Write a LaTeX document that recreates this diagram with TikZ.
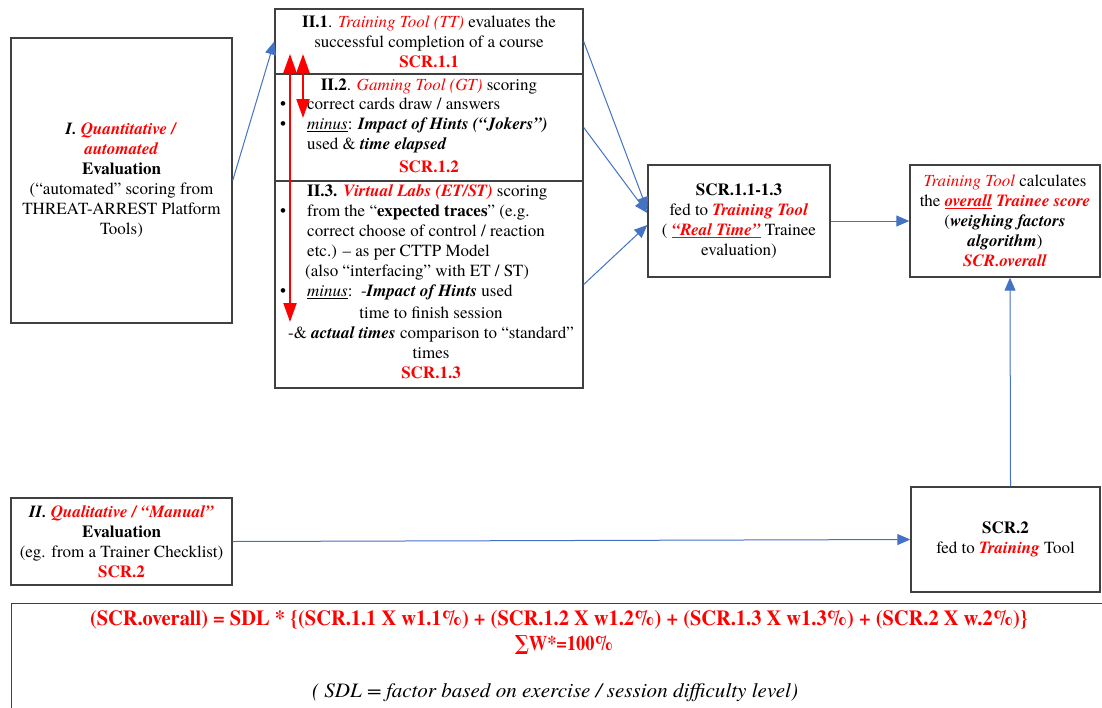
\documentclass[tikz,border=0pt]{standalone}
\usepackage{graphicx}
\usepackage{fontspec}
\setmainfont{texgyretermes}[Extension=.otf, UprightFont=*-regular, BoldFont=*-bold,
  ItalicFont=*-italic, BoldItalicFont=*-bolditalic]
\newfontfamily\symfont{DejaVu Serif}
\usetikzlibrary{arrows.meta,calc}
\definecolor{cblue}{RGB}{68,114,196}
\definecolor{cred}{RGB}{255,0,0}
\newcommand{\rd}[1]{\textcolor{cred}{#1}}
\newcommand{\bi}[1]{\textbf{\textit{#1}}}
\newcommand{\bul}{\makebox[27pt][l]{•}}
\newcommand{\ind}{\hspace*{27pt}}
\begin{document}
\begin{tikzpicture}[x=1pt,y=-1pt,
  box/.style={draw=black!75, line width=1.4pt, fill=white, inner sep=0pt, align=center,
    font=\fontsize{17}{20}\selectfont},
  txt/.style={inner sep=0pt, font=\fontsize{17}{20}\selectfont},
  conn/.style={draw=cblue, line width=1pt, -{Triangle[length=13pt,width=11pt]}},
  redarr/.style={draw=cred, line width=2pt,
    {Triangle[length=19pt,width=13pt]}-{Triangle[length=19pt,width=13pt]}}]
\useasboundingbox (0,0) rectangle (1102,707);
\clip (0,0) rectangle (1102,707);
\fill[white] (0,0) rectangle (1102,707);

% left quantitative box
\node[box, minimum width=221pt, minimum height=285pt] (q1) at (121.5,180.5)
  {\bi{I.} \rd{\bi{Quantitative /}}\\ \rd{\bi{automated}}\\ \textbf{Evaluation}\\
   (“automated” scoring from\\ THREAT-ARREST Platform\\ Tools)};

% stack II
\node[box, minimum width=308pt, minimum height=65pt] (b21) at (429,41.5)
  {\textbf{II.1}. \rd{\textit{Training Tool (TT)}} evaluates the\\
   successful completion of a course\\ \rd{\textbf{SCR.1.1}}};
\node[box, minimum width=308pt, minimum height=107pt] (b22) at (429,127.5) {};
\node[box, minimum width=308pt, minimum height=207pt] (b23) at (429,284.5) {};

\node[txt] (t22a) at (429,87) {\textbf{II.2}. \rd{\textit{Gaming Tool (GT)}} scoring};
\node[txt, align=left, anchor=north west] (t22b) at (280,98)
  {\bul correct cards draw / answers\\
   \bul\underline{\textit{minus}}: \bi{Impact of Hints (“Jokers”)}\\
   \ind used \& \bi{time elapsed}};
\node[txt] (t22c) at (429,167) {\rd{\textbf{SCR.1.2}}};

\node[txt, align=left, anchor=north west] (t23a) at (280,184)
  {\ind\textbf{II.3.} \rd{\bi{Virtual Labs (ET/ST)}} scoring\\
   \bul from the “\textbf{expected traces}” (e.g.\\
   \ind correct choose of control / reaction\\
   \ind etc.) – as per CTTP Model\\
   \hspace*{25pt}(also “interfacing” with ET / ST)\\
   \bul\underline{\textit{minus}}:\ \ -\bi{Impact of Hints} used};
\node[txt, align=center, anchor=north] (t23b) at (431,307)
  {time to finish session\\
   -\& \bi{actual times} comparison to “standard”\\
   times\\ \rd{\textbf{SCR.1.3}}};

% right boxes
\node[box, minimum width=182pt, minimum height=112pt] (s) at (739,221)
  {\textbf{SCR.1.1-1.3}\\ fed to \rd{\bi{Training Tool}}\\
   ( \rd{\underline{\bi{“Real Time”}}} Trainee\\ evaluation)};
\node[box, minimum width=190pt, minimum height=112pt] (c) at (1005,221)
  {\rd{\textit{Training Tool}} calculates\\ the \rd{\underline{\bi{overall}}} \rd{\bi{Trainee score}}\\
   (\bi{weighing factors}\\ \bi{algorithm})\\ \rd{\bi{SCR.overall}}};

% bottom boxes
\node[box, minimum width=221pt, minimum height=87pt] (q2) at (121.5,541.5)
  {\bi{II.} \rd{\bi{Qualitative / “Manual”}}\\ \textbf{Evaluation}\\
   (eg. from a Trainer Checklist)\\ \rd{\textbf{SCR.2}}};
\node[box, minimum width=189pt, minimum height=105pt] (scr2) at (1005.5,539.5)
  {\textbf{SCR.2}\\ fed to \rd{\bi{Training}} Tool};

% formula box
\node[box, minimum width=1120pt, minimum height=130pt, anchor=north west] (f) at (11,603) {};
\node[txt, text=cred] (f1) at (559,620)
  {\resizebox{938pt}{15pt}{\bfseries (SCR.overall) = SDL * \{(SCR.1.1 X w1.1\%) + (SCR.1.2 X w1.2\%) + (SCR.1.3 X w1.3\%) + (SCR.2 X w.2\%)\}}};
\node[txt, text=cred] (f2) at (564,645) {\resizebox{98pt}{15pt}{\bfseries{\symfont ∑}W*=100\%}};
\node[txt] (f3) at (555,693)
  {\resizebox{486pt}{14pt}{\itshape ( SDL = factor based on exercise / session difficulty level)}};

% connectors
\draw[conn] (q1.east) -- (b21.west);
\draw[conn] (b21.east) -- ([yshift=11pt]s.west);
\draw[conn] (b22.east) -- ([yshift=8pt]s.west);
\draw[conn] (b23.east) -- ([yshift=-4pt]s.west);
\draw[conn] (s.east) -- (c.west);
\draw[conn] ([xshift=5pt]scr2.north) -- ([xshift=5pt]c.south);
\draw[conn] (q2.east) -- (scr2.west);

% red arrows
\coordinate (ra1) at (290,54);
\coordinate (ra2) at (290,322);
\coordinate (rb1) at (303,54);
\coordinate (rb2) at (303,118);
\draw[redarr] (ra1) -- (ra2);
\draw[redarr] (rb1) -- (rb2);
\end{tikzpicture}
\end{document}
